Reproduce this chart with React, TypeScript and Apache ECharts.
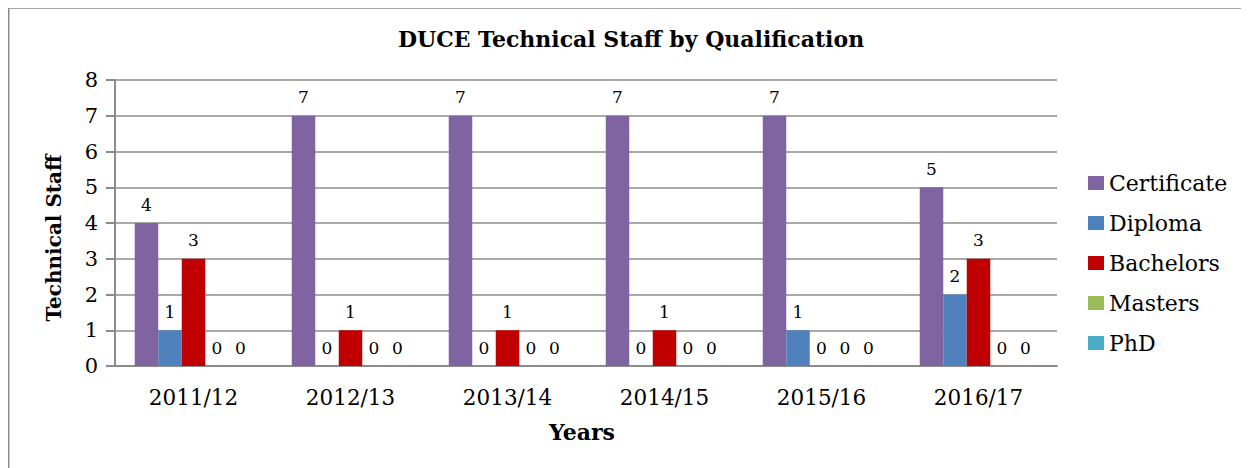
import React, { useEffect, useRef } from "react";
import * as echarts from "echarts";

const categories = ["2011/12", "2012/13", "2013/14", "2014/15", "2015/16", "2016/17"];
const certificate = [4, 7, 7, 7, 7, 5];
const diploma = [1, 0, 0, 0, 1, 2];
const bachelors = [3, 1, 1, 1, 0, 3];
const masters = [0, 0, 0, 0, 0, 0];
const phd = [0, 0, 0, 0, 0, 0];
const seriesNames = ["Certificate", "Diploma", "Bachelors", "Masters", "PhD"];
const seriesData = [certificate, diploma, bachelors, masters, phd];
const colors = ["#8064A2", "#4F81BD", "#C00000", "#9BBB59", "#4BACC6"];

const FONT = "DejaVu Serif";

export default function App() {
  const ref = useRef<HTMLDivElement>(null);
  useEffect(() => {
    if (!ref.current) return;
    const chart = echarts.init(ref.current, undefined, { renderer: "svg" });
    chart.setOption({
      animation: false,
      color: colors,
      textStyle: { fontFamily: FONT },
      grid: { left: 107, right: 192, top: 72, bottom: 102, containLabel: false },
      title: {
        text: "DUCE Technical Staff by Qualification",
        left: 618,
        top: 15,
        textAlign: "center",
        textStyle: { fontFamily: FONT, fontSize: 22, fontWeight: "bold", color: "#000" },
      },
      legend: {
        orient: "vertical",
        left: 1075,
        top: 159,
        itemWidth: 16,
        itemHeight: 14,
        itemGap: 18,
        icon: "rect",
        textStyle: { fontFamily: FONT, fontSize: 22, color: "#000" },
        data: seriesNames,
      },
      xAxis: {
        type: "category",
        data: categories,
        axisTick: { show: false },
        axisLine: { lineStyle: { color: "#8c8c8c", width: 2 } },
        axisLabel: { fontFamily: FONT, fontSize: 21.5, color: "#000", margin: 20 },
      },
      yAxis: {
        type: "value",
        min: 0,
        max: 8,
        interval: 1,
        axisLine: { show: true, lineStyle: { color: "#8c8c8c", width: 2 } },
        axisTick: { show: true, length: 9, lineStyle: { color: "#8c8c8c", width: 2 } },
        splitLine: { lineStyle: { color: "#8c8c8c", width: 1.5 } },
        axisLabel: { fontFamily: FONT, fontSize: 21, color: "#000", margin: 17 },
      },
      graphic: [
        {
          type: "polyline",
          shape: { points: [[0.75, 470], [0.75, 0], [1300, 0]] },
          style: { fill: "none", stroke: "#8c8c8c", lineWidth: 1.5 },
          silent: true,
        },
        {
          type: "text",
          x: 574,
          y: 424,
          style: {
            text: "Years",
            fontFamily: FONT,
            fontSize: 22,
            fontWeight: "bold",
            fill: "#000",
            textAlign: "center",
            textVerticalAlign: "middle",
          },
        },
        {
          type: "text",
          x: 46,
          y: 230,
          rotation: Math.PI / 2,
          style: {
            text: "Technical Staff",
            fontFamily: FONT,
            fontSize: 20,
            fontWeight: "bold",
            fill: "#000",
            textAlign: "center",
            textVerticalAlign: "middle",
          },
        },
      ],
      series: seriesNames.map((name, i) => ({
        name,
        type: "bar",
        data: seriesData[i],
        barWidth: 23.5,
        barGap: "0%",
        itemStyle: { color: colors[i] },
        label: {
          show: true,
          position: "top",
          distance: 10,
          fontFamily: FONT,
          fontSize: 17,
          color: "#000",
        },
      })),
    });
    return () => chart.dispose();
  }, []);
  return <div ref={ref} style={{ width: 1241, height: 460 }} />;
}
